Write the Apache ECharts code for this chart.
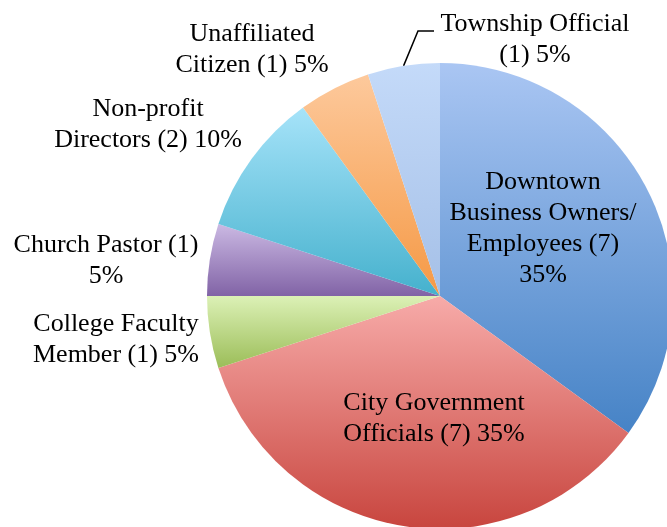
<!DOCTYPE html>
<html lang="en">
<head>
    <meta charset="UTF-8"/>
    <title>pie</title>
    <script src="https://cdn.jsdelivr.net/npm/echarts@6/dist/echarts.min.js"></script>
    <style>
        html, body { margin: 0; padding: 0; background: #fff; }
    </style>
</head>
<body>
<div id="main" style="width: 667px;height:527px;"></div>
<script type="text/javascript">
    // data
    var categories = ['Downtown Business Owners/Employees', 'City Government Officials', 'College Faculty Member',
        'Church Pastor', 'Non-profit Directors', 'Unaffiliated Citizen', 'Township Official'];
    var counts = [7, 7, 1, 1, 2, 1, 1];
    var labelTexts = [
        'Downtown\nBusiness Owners/\nEmployees (7)\n35%',
        'City Government\nOfficials (7) 35%',
        'College Faculty\nMember (1) 5%',
        'Church Pastor (1)\n5%',
        'Non-profit\nDirectors (2) 10%',
        'Unaffiliated\nCitizen (1) 5%',
        'Township Official\n(1) 5%'
    ];

    // gradient colours, top -> bottom
    var colorsTop = ['#aac6f3', '#f7aba9', '#dcf1b6', '#cbb9e3', '#a6e3f9', '#fdc99c', '#c4daf9'];
    var colorsBottom = ['#4683c6', '#c8453e', '#9bbd58', '#8163a6', '#45b1cd', '#f59945', '#a5c0e7'];

    // where each label block sits (centre)
    var labelPos = [[543, 229], [434, 419], [116, 340], [106, 261], [148, 125], [252, 50], [535, 40]];

    var myChart = echarts.init(document.getElementById('main'));

    var seriesData = [];
    for (var i = 0; i < categories.length; i++) {
        seriesData.push({
            name: categories[i],
            value: counts[i],
            itemStyle: {
                color: new echarts.graphic.LinearGradient(0, 0, 0, 1, [
                    {offset: 0, color: colorsTop[i]},
                    {offset: 1, color: colorsBottom[i]}
                ])
            },
            labelLine: {show: i === 6}
        });
    }

    var option = {
        animation: false,
        series: [
            {
                type: 'pie',
                center: [440, 296],
                radius: 233,
                startAngle: 90,
                clockwise: true,
                data: seriesData,
                itemStyle: {
                    borderWidth: 0
                },
                label: {
                    show: true,
                    position: 'outside',
                    alignTo: 'none',
                    overflow: 'none',
                    color: '#000',
                    fontFamily: 'Liberation Serif',
                    fontSize: 26,
                    lineHeight: 31,
                    align: 'center',
                    formatter: function (p) { return labelTexts[p.dataIndex]; }
                },
                labelLine: {
                    lineStyle: {color: '#000', width: 1.5}
                },
                labelLayout: function (p) {
                    var pos = labelPos[p.dataIndex];
                    var res = {
                        x: pos[0],
                        y: pos[1],
                        align: 'center',
                        verticalAlign: 'middle',
                        hideOverlap: false
                    };
                    if (p.dataIndex === 6 && p.labelLinePoints) {
                        var start = p.labelLinePoints[0];
                        res.labelLinePoints = [start, [418, 31], [434, 31]];
                    }
                    return res;
                }
            }
        ]
    };

    myChart.setOption(option);
</script>
</body>
</html>
